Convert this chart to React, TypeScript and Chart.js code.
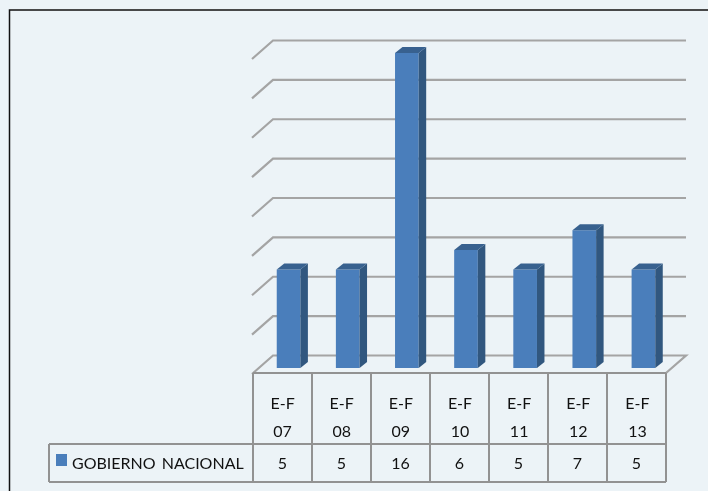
import React, { useEffect, useRef } from "react";
import { Chart, registerables } from "chart.js";

Chart.register(...registerables);

const categoryTop = ["E-F", "E-F", "E-F", "E-F", "E-F", "E-F", "E-F"];
const categoryBottom = ["07", "08", "09", "10", "11", "12", "13"];
const seriesName = "GOBIERNO NACIONAL";
const seriesValues = [5, 5, 16, 6, 5, 7, 5];

const FONT = "Lato, sans-serif";
const BG = "#ECF3F7";
const GRID = "#A4A4A4";
const TABLE = "#929292";
const FRONT = "#4A7EBB";
const SIDE = "#31577F";
const TOPFACE = "#38618F";
const TEXT = "#111111";

const depthPlugin = {
  id: "depth",
  beforeDraw(chart: any) {
    const { ctx, width, height } = chart;
    ctx.save();
    ctx.fillStyle = BG;
    ctx.fillRect(0, 0, width, height);
    ctx.strokeStyle = "#111111";
    ctx.lineWidth = 1.5;
    ctx.beginPath();
    ctx.moveTo(9.5, height);
    ctx.lineTo(9.5, 10);
    ctx.lineTo(width, 10);
    ctx.stroke();
    ctx.restore();
  },
  beforeDatasetsDraw(chart: any) {
    const { ctx, scales, chartArea } = chart;
    const { left, right } = chartArea;
    ctx.save();
    ctx.strokeStyle = GRID;
    ctx.lineWidth = 2.2;
    scales.y.ticks.forEach((t: any) => {
      const y = scales.y.getPixelForValue(t.value);
      ctx.beginPath();
      ctx.moveTo(left - 7, y + 6);
      ctx.lineTo(left + 14, y - 12.5);
      ctx.lineTo(right + 13, y - 12.5);
      if (t.value === 0) ctx.lineTo(right - 7, y + 5);
      ctx.stroke();
    });
    ctx.restore();
  },
  afterDatasetsDraw(chart: any) {
    const { ctx } = chart;
    const meta = chart.getDatasetMeta(0);
    ctx.save();
    meta.data.forEach((bar: any) => {
      const l = bar.x - bar.width / 2;
      const r = bar.x + bar.width / 2;
      const t = bar.y;
      const b = bar.base;
      ctx.fillStyle = SIDE;
      ctx.beginPath();
      ctx.moveTo(r, t);
      ctx.lineTo(r + 7.5, t - 6);
      ctx.lineTo(r + 7.5, b - 6);
      ctx.lineTo(r, b);
      ctx.closePath();
      ctx.fill();
      ctx.fillStyle = TOPFACE;
      ctx.beginPath();
      ctx.moveTo(l, t);
      ctx.lineTo(l + 7.5, t - 6);
      ctx.lineTo(r + 7.5, t - 6);
      ctx.lineTo(r, t);
      ctx.closePath();
      ctx.fill();
    });
    ctx.restore();
  },
  afterDraw(chart: any) {
    const { ctx, chartArea } = chart;
    const n = seriesValues.length;
    const x0 = chartArea.left - 6;
    const step = (chartArea.right - 7 - x0) / n;
    const top = chartArea.bottom + 5;
    const rowTop = 444;
    const rowBottom = 482;
    const tableLeft = 49;
    ctx.save();
    ctx.strokeStyle = TABLE;
    ctx.lineWidth = 2;
    ctx.beginPath();
    ctx.moveTo(x0, top);
    ctx.lineTo(x0 + step * n, top);
    ctx.moveTo(tableLeft, rowTop);
    ctx.lineTo(x0 + step * n, rowTop);
    ctx.moveTo(tableLeft, rowBottom);
    ctx.lineTo(x0 + step * n, rowBottom);
    ctx.moveTo(tableLeft, rowTop);
    ctx.lineTo(tableLeft, rowBottom);
    for (let i = 0; i <= n; i++) {
      ctx.moveTo(x0 + step * i, top);
      ctx.lineTo(x0 + step * i, rowBottom);
    }
    ctx.stroke();

    ctx.fillStyle = FRONT;
    ctx.fillRect(56, 454, 11, 12);
    ctx.fillStyle = TEXT;
    ctx.font = `16px ${FONT}`;
    ctx.textBaseline = "middle";
    ctx.textAlign = "left";
    (ctx as any).wordSpacing = "2px";
    ctx.fillText(seriesName, 72, 463.5);
    (ctx as any).wordSpacing = "0px";
    ctx.textAlign = "center";
    seriesValues.forEach((v, i) => {
      ctx.fillText(String(v), x0 + step * (i + 0.5), 464);
    });
    ctx.restore();
  },
};

export default function App() {
  const ref = useRef<HTMLCanvasElement>(null);
  useEffect(() => {
    document.body.style.margin = "0";
    document.body.style.background = BG;
    const chart = new Chart(ref.current!, {
      type: "bar",
      data: {
        labels: categoryTop.map((c, i) => [c, categoryBottom[i]]),
        datasets: [
          {
            label: seriesName,
            data: seriesValues,
            backgroundColor: FRONT,
            borderWidth: 0,
            categoryPercentage: 1,
            barPercentage: 0.4,
          },
        ],
      },
      options: {
        animation: false,
        responsive: false,
        devicePixelRatio: 1,
        layout: { padding: { left: 259, right: 35, top: 53, bottom: 0 } },
        plugins: { legend: { display: false }, tooltip: { enabled: false } },
        scales: {
          x: {
            grid: { display: false, drawTicks: false },
            border: { display: false },
            afterFit(scale: any) {
              scale.height = 123;
            },
            ticks: {
              autoSkip: false,
              maxRotation: 0,
              minRotation: 0,
              padding: 22,
              labelOffset: -6,
              color: TEXT,
              font: { family: FONT, size: 16, lineHeight: "28px" as any },
            },
          },
          y: {
            display: false,
            min: 0,
            max: 16,
            ticks: { stepSize: 2 },
          },
        },
      },
      plugins: [depthPlugin],
    });
    return () => chart.destroy();
  }, []);
  return (
    <canvas
      ref={ref}
      width={708}
      height={491}
      style={{ display: "block", width: 708, height: 491 }}
    />
  );
}
